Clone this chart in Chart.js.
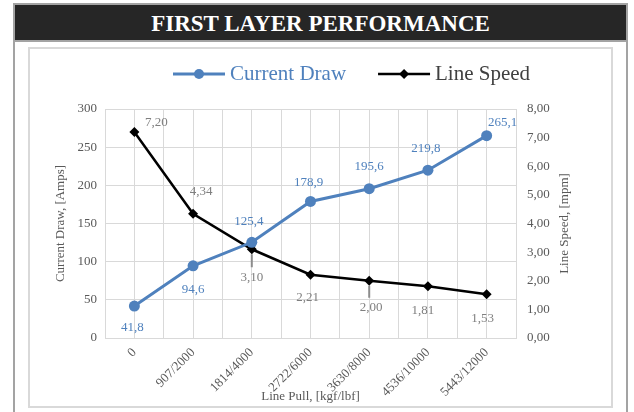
<!DOCTYPE html>
<html lang="en">
<head>
<meta charset="UTF-8">
<title>First Layer Performance</title>
<script src="https://cdn.jsdelivr.net/npm/chart.js@4.4.0/dist/chart.umd.min.js"></script>
<style>
    body {
        margin: 0;
        width: 634px;
        height: 412px;
        overflow: hidden;
        background: #fff;
        font-family: 'Liberation Serif', 'DejaVu Serif', serif;
    }
    .frame {
        position: absolute;
        left: 13px;
        top: 3px;
        width: 615px;
        height: 420px;
        box-sizing: border-box;
        border: 2px solid #a3a3a3;
        border-bottom: none;
    }
    .title-bar {
        height: 35px;
        background: #262626;
        border-bottom: 2px solid #a3a3a3;
        color: #fff;
        font-weight: bold;
        font-size: 23px;
        line-height: 37px;
        text-align: center;
    }
    .inner {
        position: absolute;
        left: 28px;
        top: 47px;
        width: 585px;
        height: 361px;
        box-sizing: border-box;
        border: 2px solid #d9d9d9;
    }
    .chart-box {
        position: absolute;
        left: 30px;
        top: 49px;
        width: 581px;
        height: 357px;
    }
</style>
</head>
<body>
<div class="frame"><div class="title-bar">FIRST LAYER PERFORMANCE</div></div>
<div class="inner"></div>
<div class="chart-box"><canvas id="perfChart"></canvas></div>

<script>
    // values
    const categories = ['0', '907/2000', '1814/4000', '2722/6000', '3630/8000', '4536/10000', '5443/12000'];
    const currentDraw = [41.8, 94.6, 125.4, 178.9, 195.6, 219.8, 265.1];
    const lineSpeed = [7.20, 4.34, 3.10, 2.21, 2.00, 1.81, 1.53];

    const BLUE = '#4f81bd';
    const GREY_TEXT = '#595959';
    const LABEL_GREY = '#7f7f7f';
    const GRID = '#d9d9d9';
    const FONT = "'Liberation Serif', 'DejaVu Serif', serif";

    // label placement (dx, dy from the point), third item = leader line
    const drawLabelOffsets = [[-2, 21], [0, 24], [-3, -21], [-2, -19], [0, -22], [-2, -22], [16, -13]];
    const speedLabelOffsets = [[22, -9], [8, -22], [0, 28, true], [-3, 23], [2, 27, true], [-5, 24], [-4, 24]];

    const comma = (v, d) => v.toFixed(d).replace('.', ',');

    const labelPlugin = {
        id: 'pointLabels',
        afterDatasetsDraw(chart) {
            const ctx = chart.ctx;
            ctx.save();
            ctx.font = '13px ' + FONT;
            ctx.textAlign = 'center';
            ctx.textBaseline = 'middle';
            chart.getDatasetMeta(1).data.forEach((pt, i) => {
                const o = speedLabelOffsets[i];
                if (o[2]) {
                    ctx.strokeStyle = '#8c8c8c';
                    ctx.lineWidth = 2;
                    ctx.beginPath();
                    ctx.moveTo(pt.x, pt.y + 5);
                    ctx.lineTo(pt.x, pt.y + o[1] - 10);
                    ctx.stroke();
                }
                ctx.fillStyle = LABEL_GREY;
                ctx.fillText(comma(lineSpeed[i], 2), pt.x + o[0], pt.y + o[1]);
            });
            chart.getDatasetMeta(0).data.forEach((pt, i) => {
                const o = drawLabelOffsets[i];
                ctx.fillStyle = BLUE;
                ctx.fillText(comma(currentDraw[i], 1), pt.x + o[0], pt.y + o[1]);
            });

            // right axis title, reading bottom to top like the left one
            const ys = chart.scales.y1;
            ctx.save();
            ctx.translate(ys.right - 11, (chart.chartArea.top + chart.chartArea.bottom) / 2);
            ctx.rotate(-Math.PI / 2);
            ctx.fillStyle = GREY_TEXT;
            ctx.fillText('Line Speed, [mpm]', 0, 0);
            ctx.restore();
            ctx.restore();
        }
    };

    const legendPlugin = {
        id: 'lineLegend',
        afterDraw(chart) {
            const ctx = chart.ctx;
            const items = [
                { text: 'Current Draw', color: BLUE, textColor: BLUE, marker: 'circle', width: 3 },
                { text: 'Line Speed', color: '#000', textColor: '#404040', marker: 'diamond', width: 2.5 }
            ];
            ctx.save();
            ctx.font = '21px ' + FONT;
            ctx.textBaseline = 'middle';
            let x = 143;
            const y = 25;
            items.forEach(it => {
                ctx.strokeStyle = it.color;
                ctx.fillStyle = it.color;
                ctx.lineWidth = it.width;
                ctx.beginPath();
                ctx.moveTo(x, y);
                ctx.lineTo(x + 52, y);
                ctx.stroke();
                const mx = x + 26;
                ctx.beginPath();
                if (it.marker === 'circle') {
                    ctx.arc(mx, y, 5, 0, Math.PI * 2);
                } else {
                    ctx.moveTo(mx, y - 5);
                    ctx.lineTo(mx + 5, y);
                    ctx.lineTo(mx, y + 5);
                    ctx.lineTo(mx - 5, y);
                    ctx.closePath();
                }
                ctx.fill();
                ctx.fillStyle = it.textColor;
                ctx.fillText(it.text, x + 57, y);
                x += 57 + ctx.measureText(it.text).width + 32;
            });
            ctx.restore();
        }
    };

    const ctx = document.getElementById('perfChart').getContext('2d');
    const chart = new Chart(ctx, {
        type: 'line',
        data: {
            labels: categories,
            datasets: [
                {
                    label: 'Current Draw',
                    data: currentDraw,
                    yAxisID: 'y',
                    borderColor: BLUE,
                    backgroundColor: BLUE,
                    borderWidth: 3,
                    pointStyle: 'circle',
                    pointRadius: 5.5,
                    pointBorderWidth: 0,
                    tension: 0
                },
                {
                    label: 'Line Speed',
                    data: lineSpeed,
                    yAxisID: 'y1',
                    borderColor: '#000',
                    backgroundColor: '#000',
                    borderWidth: 2.5,
                    pointStyle: 'rectRot',
                    pointRadius: 5,
                    pointBorderWidth: 0,
                    tension: 0
                }
            ]
        },
        options: {
            responsive: true,
            maintainAspectRatio: false,
            animation: false,
            layout: { padding: { top: 60, left: 19, right: 35, bottom: 0 } },
            plugins: {
                legend: { display: false },
                tooltip: { enabled: false }
            },
            scales: {
                x: {
                    offset: true,
                    grid: { color: GRID, offset: false, drawTicks: false },
                    border: { color: GRID },
                    ticks: {
                        color: GREY_TEXT,
                        font: { family: FONT, size: 13 },
                        minRotation: 45,
                        maxRotation: 45,
                        padding: 7
                    },
                    title: {
                        display: true,
                        text: 'Line Pull, [kgf/lbf]',
                        color: GREY_TEXT,
                        font: { family: FONT, size: 13 },
                        padding: { top: 0, bottom: 2 }
                    },
                    afterFit: s => { s.height = 68; }
                },
                x2: {
                    position: 'bottom',
                    offset: true,
                    grid: { color: GRID, offset: true, drawTicks: false },
                    border: { display: false },
                    ticks: { display: false },
                    afterFit: s => { s.height = 0; }
                },
                y: {
                    position: 'left',
                    min: 0,
                    max: 300,
                    ticks: {
                        stepSize: 50,
                        color: GREY_TEXT,
                        font: { family: FONT, size: 13 },
                        padding: 8
                    },
                    grid: { color: GRID, drawTicks: false },
                    border: { color: GRID },
                    title: {
                        display: true,
                        text: 'Current Draw, [Amps]',
                        color: GREY_TEXT,
                        font: { family: FONT, size: 13 },
                        padding: 4
                    },
                    afterFit: s => { s.width = 56; }
                },
                y1: {
                    position: 'right',
                    min: 0,
                    max: 8,
                    ticks: {
                        stepSize: 1,
                        color: GREY_TEXT,
                        font: { family: FONT, size: 13 },
                        padding: 11,
                        callback: v => comma(v, 2)
                    },
                    grid: { drawOnChartArea: false, drawTicks: false },
                    border: { color: GRID },
                    afterFit: s => { s.width = 60; }
                }
            }
        },
        plugins: [labelPlugin, legendPlugin]
    });
</script>
</body>
</html>
